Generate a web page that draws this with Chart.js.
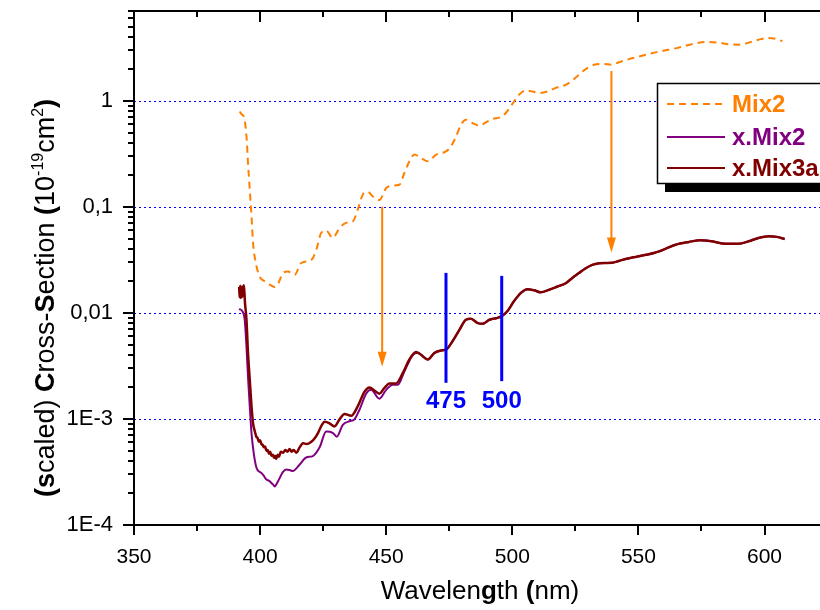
<!DOCTYPE html>
<html>
<head>
<meta charset="utf-8">
<script src="https://cdn.jsdelivr.net/npm/chart.js@4.4.1/dist/chart.umd.min.js"></script>
<style>
  html, body { margin: 0; padding: 0; background: #fff; }
  canvas { display: block; }
</style>
</head>
<body>
<canvas id="crossSectionChart" width="820" height="610"></canvas>
<script>
// ---- axis ticks ----
const xTickValues = [350, 400, 450, 500, 550, 600];
const yTickValues = [1e-4, 1e-3, 0.01, 0.1, 1];
const yTickLabels = ['1E-4', '1E-3', '0,01', '0,1', '1'];

// ---- Mix2 (dashed orange) ----
const mix2Wl = [391.9, 392.8, 393.6, 394.6, 395.2, 395.9, 396.6, 397.2, 398.3, 399.8, 401.8, 403.8, 405.8, 407.1,
  409.1, 411.0, 413.7, 416.3, 420.3, 422.3, 424.2, 426.2, 428.8, 431.5, 434.1, 436.8, 438.7, 440.7, 442.7, 444.7,
  447.3, 450.0, 452.6, 455.2, 457.2, 459.2, 461.2, 463.8, 466.5, 469.8, 473.7, 475.7, 477.7, 479.7, 481.6, 484.2,
  486.9, 489.5, 492.1, 495.4, 497.4, 500.1, 502.7, 505.3, 508.0, 510.6, 513.9, 517.2, 521.2, 524.5, 527.1, 529.7,
  532.4, 535.7, 539.6, 542.2, 546.0, 550.2, 554.0, 558.1, 562.0, 566.0, 570.0, 573.9, 578.0, 581.8, 586.0, 589.7,
  592.5, 595.6, 598.5, 601.6, 604.5, 607.1];
const mix2Val = [0.79, 0.74, 0.70, 0.46, 0.258, 0.145, 0.081, 0.0455, 0.0295, 0.022, 0.0198, 0.0184, 0.0175, 0.0188,
  0.0237, 0.0245, 0.0228, 0.0295, 0.0316, 0.0394, 0.0565, 0.0595, 0.0508, 0.063, 0.0705, 0.073, 0.094, 0.130, 0.138, 0.125,
  0.116, 0.150, 0.158, 0.161, 0.208, 0.268, 0.31, 0.288, 0.268, 0.31, 0.333, 0.371, 0.46, 0.594, 0.662, 0.616,
  0.58, 0.624, 0.672, 0.70, 0.765, 0.937, 1.14, 1.25, 1.22, 1.18, 1.22, 1.32, 1.41, 1.60, 1.82, 2.03,
  2.18, 2.22, 2.18, 2.30, 2.45, 2.60, 2.75, 2.90, 3.02, 3.16, 3.35, 3.52, 3.58, 3.52, 3.40, 3.37,
  3.45, 3.64, 3.80, 3.90, 3.82, 3.64];

// ---- x.Mix2 (purple), short-wavelength part ----
const xMix2Wl = [391.7, 393.0, 393.9, 394.6, 395.2, 395.9, 396.6, 397.5, 398.5, 399.5, 400.5, 401.5, 402.5, 403.5,
  404.5, 405.2, 405.8, 406.8, 407.8, 409.0, 410.4, 411.7, 413.0, 414.3, 415.7, 418.3, 420.9, 423.6, 426.2, 428.8,
  430.4, 432.8, 435.4, 437.4, 439.4, 442.1, 444.0, 447.3, 450.0, 452.6, 454.6, 457.2, 460.5, 462.5, 465.0];
const xMix2Val = [0.0109, 0.0103, 0.0086, 0.0048, 0.0025, 0.00131, 0.00073, 0.00047, 0.00035, 0.00032, 0.00031, 0.00029, 0.000268, 0.000262,
  0.000249, 0.000240, 0.000231, 0.000250, 0.000278, 0.000315, 0.000334, 0.000330, 0.000322, 0.000340, 0.000372, 0.000433, 0.000446, 0.00054, 0.00076, 0.00074,
  0.00068, 0.00088, 0.00095, 0.00099, 0.00122, 0.00174, 0.00188, 0.00155, 0.00188, 0.0021, 0.0021, 0.0028, 0.0040, 0.0042, 0.0038];

// ---- x.Mix3a (dark red), short-wavelength part ----
const xMix3aWl = [391.7, 391.9, 392.1, 392.4, 392.7, 393.0, 393.3, 393.6, 394.0, 394.6, 395.2, 395.9, 396.6, 397.2,
  397.8, 398.5, 399.0, 399.5, 400.0, 400.5, 401.0, 401.5, 402.0, 402.5, 403.0, 403.5, 404.0, 404.5, 405.0, 405.5,
  406.0, 406.4, 407.0, 407.5, 408.2, 409.1, 410.0, 410.8, 411.7, 412.5, 413.3, 414.4, 415.5, 417.0, 418.5, 420.3,
  421.5, 423.0, 424.3, 425.6, 427.5, 429.5, 431.5, 433.5, 436.1, 438.7, 441.4, 443.4, 445.3, 447.3, 449.3, 451.3,
  453.9, 456.6, 459.2, 461.8, 463.8];
const xMix3aVal = [0.0175, 0.0140, 0.0180, 0.0138, 0.0176, 0.0142, 0.0172, 0.0182, 0.0125, 0.0086, 0.0042, 0.00234, 0.00131, 0.00091,
  0.00078, 0.00068, 0.00066, 0.00061, 0.00063, 0.00058, 0.00057, 0.00054, 0.00055, 0.00050, 0.00051, 0.00047, 0.00049, 0.00045, 0.00046, 0.00043,
  0.00045, 0.00042, 0.00046, 0.00044, 0.00049, 0.00048, 0.00051, 0.00049, 0.00052, 0.00049, 0.00051, 0.00048, 0.00053, 0.00059, 0.00058, 0.00061,
  0.00065, 0.00074, 0.00086, 0.00094, 0.00091, 0.00085, 0.00099, 0.00111, 0.00107, 0.00131, 0.00181, 0.00198, 0.00185, 0.00173, 0.00196, 0.00216,
  0.00216, 0.00271, 0.00363, 0.00428, 0.00403];

// ---- common long-wavelength part of x.Mix2 and x.Mix3a ----
const tailWl = [466.5, 469.1, 471.7, 473.7, 476.3, 479.0, 481.6, 483.6, 486.3, 488.3, 490.9, 493.6, 495.8, 498.1,
  500.7, 503.4, 506.0, 508.7, 511.3, 514.6, 517.9, 521.2, 524.0, 526.4, 529.0, 531.7, 534.5, 537.0, 539.6, 542.2,
  544.9, 547.5, 550.2, 553.0, 556.1, 558.5, 560.7, 564.7, 570.0, 574.6, 579.2, 584.5, 589.7, 593.7, 597.6, 601.6,
  604.9, 608.0];
const tailVal = [0.00363, 0.00419, 0.00442, 0.0045, 0.0054, 0.0069, 0.0086, 0.0088, 0.0080, 0.0079, 0.0086, 0.0089, 0.0093, 0.0104,
  0.0129, 0.0154, 0.0167, 0.0163, 0.0156, 0.0165, 0.0177, 0.0190, 0.0215, 0.0237, 0.0262, 0.0283, 0.0293, 0.0295, 0.0296, 0.0308,
  0.0322, 0.0332, 0.0341, 0.0352, 0.0366, 0.0382, 0.0401, 0.0438, 0.0466, 0.0484, 0.0472, 0.0447, 0.0447, 0.0472, 0.0508, 0.0527,
  0.0520, 0.0496];

// ---- annotations (data units) ----
const arrowWl = [448.4, 539.3];
const arrowFrom = [0.1, 1.9];
const arrowTo = [0.0031, 0.037];
const markerWl = [473.7, 495.8];
const markerTop = [0.0238, 0.0223];
const markerBottom = [0.00219, 0.00227];
const markerLabels = ['475', '500'];
const markerLabelVal = 0.00146;

const seriesNames = ['Mix2', 'x.Mix2', 'x.Mix3a'];
const seriesColors = ['#ff8000', '#800080', '#800000'];

const FONT = '"Liberation Sans", Arial, sans-serif';

function toPoints(xs, ys) {
  return xs.map((x, i) => ({ x: x, y: ys[i] }));
}

function drawRich(ctx, parts, size) {
  let total = 0;
  const items = parts.map(p => {
    const fs = p.sup ? Math.round(size * 0.6) : size;
    const font = (p.bold ? 'bold ' : '') + fs + 'px ' + FONT;
    ctx.font = font;
    const w = ctx.measureText(p.t).width;
    total += w;
    return { p: p, font: font, w: w };
  });
  let x = -total / 2;
  items.forEach(it => {
    ctx.font = it.font;
    ctx.fillText(it.p.t, x, it.p.sup ? -size * 0.42 : 0);
    x += it.w;
  });
}

const decorations = {
  id: 'decorations',
  beforeDatasetsDraw(chart) {
    const { ctx, chartArea: a, scales: { y } } = chart;
    ctx.save();
    ctx.strokeStyle = '#0000ff';
    ctx.lineWidth = 1;
    ctx.setLineDash([2, 3]);
    yTickValues.forEach(v => {
      if (v <= y.min) return;
      const py = Math.round(y.getPixelForValue(v)) + 0.5;
      ctx.beginPath();
      ctx.moveTo(a.left, py);
      ctx.lineTo(a.right, py);
      ctx.stroke();
    });
    ctx.restore();
  },
  afterDatasetsDraw(chart) {
    const { ctx, chartArea: a, scales: { x, y } } = chart;
    ctx.save();

    // orange arrows
    ctx.strokeStyle = seriesColors[0];
    ctx.fillStyle = seriesColors[0];
    ctx.lineWidth = 2;
    arrowWl.forEach((wl, i) => {
      const px = x.getPixelForValue(wl);
      const y1 = y.getPixelForValue(arrowFrom[i]);
      const y2 = y.getPixelForValue(arrowTo[i]);
      ctx.beginPath();
      ctx.moveTo(px, y1);
      ctx.lineTo(px, y2 - 12);
      ctx.stroke();
      ctx.beginPath();
      ctx.moveTo(px - 4.5, y2 - 15);
      ctx.lineTo(px + 4.5, y2 - 15);
      ctx.lineTo(px, y2);
      ctx.closePath();
      ctx.fill();
    });

    // blue markers
    ctx.strokeStyle = '#0000ff';
    ctx.fillStyle = '#0000ff';
    ctx.lineWidth = 3;
    ctx.font = 'bold 24px ' + FONT;
    ctx.textAlign = 'center';
    ctx.textBaseline = 'middle';
    markerWl.forEach((wl, i) => {
      const px = x.getPixelForValue(wl);
      ctx.beginPath();
      ctx.moveTo(px, y.getPixelForValue(markerTop[i]));
      ctx.lineTo(px, y.getPixelForValue(markerBottom[i]));
      ctx.stroke();
      ctx.fillText(markerLabels[i], px, y.getPixelForValue(markerLabelVal));
    });

    // frame
    ctx.strokeStyle = '#000';
    ctx.lineWidth = 2;
    ctx.beginPath();
    ctx.moveTo(a.right, a.top);
    ctx.lineTo(a.left, a.top);
    ctx.lineTo(a.left, a.bottom);
    ctx.lineTo(a.right, a.bottom);
    ctx.stroke();

    // x ticks (bottom outward, top inward)
    ctx.beginPath();
    xTickValues.forEach(v => {
      const px = Math.round(x.getPixelForValue(v));
      ctx.moveTo(px, a.bottom); ctx.lineTo(px, a.bottom + 10);
      ctx.moveTo(px, a.top); ctx.lineTo(px, a.top + 11);
      const pm = Math.round(x.getPixelForValue(v + 25));
      if (pm < a.right) {
        ctx.moveTo(pm, a.bottom); ctx.lineTo(pm, a.bottom + 6);
        ctx.moveTo(pm, a.top); ctx.lineTo(pm, a.top + 6);
      }
    });
    // y ticks (left outward)
    yTickValues.forEach(v => {
      const py = Math.round(y.getPixelForValue(v));
      ctx.moveTo(a.left, py); ctx.lineTo(a.left - 11, py);
      for (let k = 2; k <= 9; k++) {
        const m = v * k;
        if (m > y.max) break;
        const pm = Math.round(y.getPixelForValue(m));
        ctx.moveTo(a.left, pm); ctx.lineTo(a.left - 6, pm);
      }
    });
    ctx.stroke();

    // legend box with shadow
    ctx.fillStyle = '#000';
    ctx.fillRect(665, 93, 200, 99);
    ctx.fillStyle = '#fff';
    ctx.fillRect(657, 83, 200, 100);
    ctx.lineWidth = 1.5;
    ctx.strokeRect(657.5, 83.5, 200, 100);
    const rowY = [104, 137, 168];
    ctx.textAlign = 'left';
    ctx.textBaseline = 'middle';
    ctx.font = 'bold 24px ' + FONT;
    seriesNames.forEach((name, i) => {
      ctx.strokeStyle = seriesColors[i];
      ctx.lineWidth = 2;
      ctx.setLineDash(i === 0 ? [7, 5] : []);
      ctx.beginPath();
      ctx.moveTo(667, rowY[i]);
      ctx.lineTo(725, rowY[i]);
      ctx.stroke();
      ctx.setLineDash([]);
      ctx.fillStyle = seriesColors[i];
      ctx.fillText(name, 732, rowY[i] + 1);
    });

    // axis titles
    ctx.fillStyle = '#000';
    ctx.textAlign = 'left';
    ctx.textBaseline = 'alphabetic';
    ctx.save();
    ctx.translate(480, 599);
    drawRich(ctx, [
      { t: 'Wavelen' }, { t: 'g', bold: true }, { t: 'th ' }, { t: '(', bold: true }, { t: 'nm)' }
    ], 26);
    ctx.restore();
    ctx.save();
    ctx.translate(54, 298);
    ctx.rotate(-Math.PI / 2);
    drawRich(ctx, [
      { t: '(', bold: true }, { t: 's', bold: true }, { t: 'caled) ' }, { t: 'C', bold: true }, { t: 'ross-' },
      { t: 'S', bold: true }, { t: 'ection ' }, { t: '(', bold: true }, { t: '10' }, { t: '-19', sup: true },
      { t: 'cm' }, { t: '2', sup: true }, { t: ')', bold: true }
    ], 27);
    ctx.restore();

    ctx.restore();
  }
};

new Chart(document.getElementById('crossSectionChart').getContext('2d'), {
  type: 'line',
  data: {
    datasets: [
      {
        label: seriesNames[2],
        data: toPoints(xMix3aWl.concat(tailWl), xMix3aVal.concat(tailVal)),
        borderColor: seriesColors[2],
        borderWidth: 2.5,
        order: 0
      },
      {
        label: seriesNames[1],
        data: toPoints(xMix2Wl.concat(tailWl), xMix2Val.concat(tailVal)),
        borderColor: seriesColors[1],
        borderWidth: 2,
        order: 1
      },
      {
        label: seriesNames[0],
        data: toPoints(mix2Wl, mix2Val),
        borderColor: seriesColors[0],
        borderWidth: 2,
        borderDash: [7, 5],
        order: 2
      }
    ]
  },
  options: {
    responsive: false,
    animation: false,
    devicePixelRatio: 1,
    layout: { padding: { top: 11, right: 0, left: 0, bottom: 0 } },
    elements: {
      point: { radius: 0 },
      line: { cubicInterpolationMode: 'monotone', fill: false }
    },
    plugins: {
      legend: { display: false },
      tooltip: { enabled: false }
    },
    scales: {
      x: {
        type: 'linear',
        min: 350,
        max: 622,
        grid: { display: false },
        border: { display: false },
        ticks: {
          padding: 12,
          color: '#000',
          font: { family: FONT, size: 21 },
          callback: v => String(v)
        },
        afterBuildTicks: scale => { scale.ticks = xTickValues.map(v => ({ value: v })); },
        afterFit: scale => {
          scale.height = 85;
          scale.paddingLeft = 0;
          scale.paddingRight = 0;
        }
      },
      y: {
        type: 'logarithmic',
        min: 1e-4,
        max: 7,
        grid: { display: false },
        border: { display: false },
        ticks: {
          padding: 13,
          color: '#000',
          font: { family: FONT, size: 22 },
          callback: v => {
            const i = yTickValues.indexOf(v);
            return i >= 0 ? yTickLabels[i] : null;
          }
        },
        afterBuildTicks: scale => { scale.ticks = yTickValues.map(v => ({ value: v })); },
        afterFit: scale => {
          scale.width = 134;
          scale.paddingTop = 0;
          scale.paddingBottom = 0;
        }
      }
    }
  },
  plugins: [decorations]
});
</script>
</body>
</html>
